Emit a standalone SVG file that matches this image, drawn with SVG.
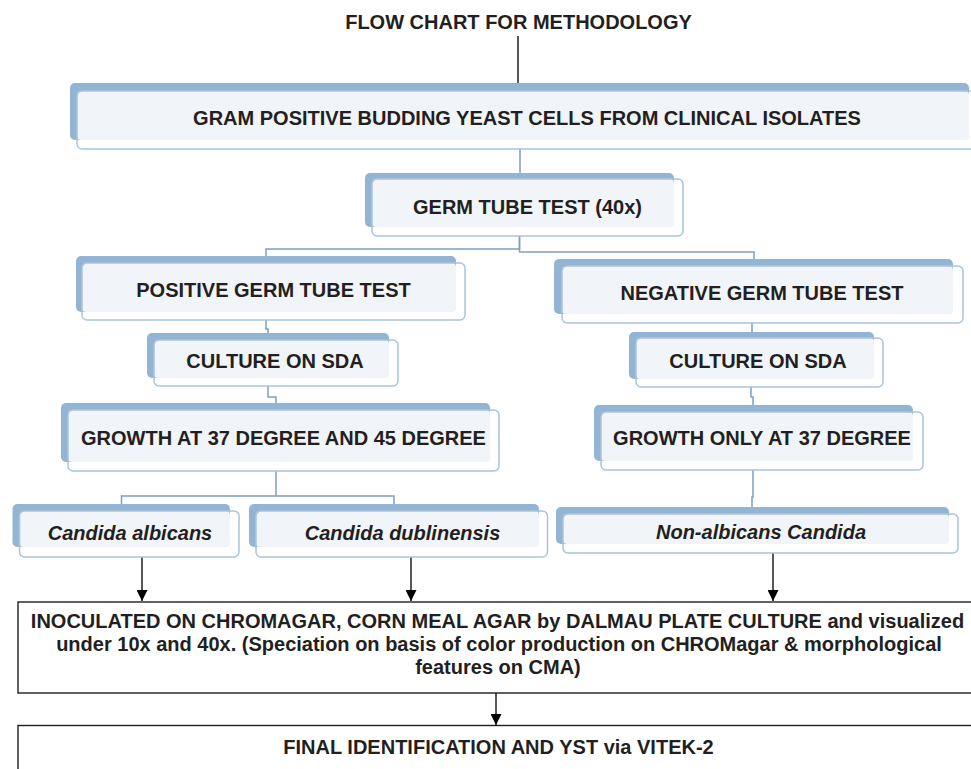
<svg xmlns="http://www.w3.org/2000/svg" width="971" height="769" viewBox="0 0 971 769">
<defs>
<style>
.sh{fill:#93b4d2;}
.fl{fill:#f1f4f8;}
.ol{fill:none;stroke:#a9c4e0;stroke-width:1.5;}
.t{font-family:"Liberation Sans",Arial,sans-serif;font-weight:bold;font-size:20px;fill:#231f20;text-anchor:middle;}
.i{font-style:italic;}
.bl{fill:none;stroke:#7d9fc2;stroke-width:1.5;}
.ar{fill:none;stroke:#231f20;stroke-width:1.5;}
.bx{fill:#ffffff;stroke:#231f20;stroke-width:1.4;}
</style>
<marker id="ah" markerWidth="11" markerHeight="11" refX="11" refY="5.5" orient="auto" markerUnits="userSpaceOnUse">
<path d="M0,0 L11,5.5 L0,11 Z" fill="#000000"/>
</marker>
</defs>
<rect width="971" height="769" fill="#ffffff"/>

<g id="title">
<text class="t" x="518.5" y="29">FLOW CHART FOR METHODOLOGY</text>
</g>

<g id="connectors">
<path class="ar" d="M518,36 V83"/>
<path class="bl" d="M520,149 V173"/>
<path class="bl" d="M519.5,236 V249 H266 V256"/>
<path class="bl" d="M519.5,236 V252 H754 V259"/>
<path class="bl" d="M266,320 V329 H268 V333"/>
<path class="bl" d="M268,386 V397 H276 V403"/>
<path class="bl" d="M276,471 V496 H121.5 V504"/>
<path class="bl" d="M276,496 H394 V504"/>
<path class="bl" d="M752,323 V332"/>
<path class="bl" d="M751,387 V397 H753 V405"/>
<path class="bl" d="M753,470 V497 H752 V507"/>
<path class="ar" d="M142,557 V601" marker-end="url(#ah)"/>
<path class="ar" d="M411,557 V601" marker-end="url(#ah)"/>
<path class="ar" d="M773,553 V601" marker-end="url(#ah)"/>
<path class="ar" d="M496,693 V725" marker-end="url(#ah)"/>
</g>

<g id="n-gram">
<rect class="sh" x="70" y="83" width="899" height="57" rx="5"/>
<rect class="fl" x="77" y="91" width="892" height="49" rx="4"/>
<rect class="ol" x="77" y="91" width="910" height="58" rx="5"/>
<text class="t" x="527" y="125">GRAM POSITIVE BUDDING YEAST CELLS FROM CLINICAL ISOLATES</text>
</g>

<g id="n-germ">
<rect class="sh" x="365" y="173" width="309" height="54" rx="5"/>
<rect class="fl" x="372" y="179" width="302" height="48" rx="4"/>
<rect class="ol" x="372" y="179" width="311" height="57" rx="5"/>
<text class="t" x="527.5" y="214">GERM TUBE TEST (40x)</text>
</g>

<g id="n-pos">
<rect class="sh" x="76" y="256" width="380" height="56" rx="5"/>
<rect class="fl" x="82" y="263" width="374" height="49" rx="4"/>
<rect class="ol" x="82" y="263" width="383" height="57" rx="5"/>
<text class="t" x="273.5" y="297">POSITIVE GERM TUBE TEST</text>
</g>

<g id="n-neg">
<rect class="sh" x="554" y="259" width="399" height="55" rx="5"/>
<rect class="fl" x="562" y="266" width="391" height="48" rx="4"/>
<rect class="ol" x="562" y="266" width="401" height="57" rx="5"/>
<text class="t" x="762" y="300">NEGATIVE GERM TUBE TEST</text>
</g>

<g id="n-sda-l">
<rect class="sh" x="147" y="333" width="242" height="45" rx="5"/>
<rect class="fl" x="154" y="340" width="235" height="38" rx="4"/>
<rect class="ol" x="154" y="340" width="244" height="46" rx="5"/>
<text class="t" x="275" y="368">CULTURE ON SDA</text>
</g>

<g id="n-sda-r">
<rect class="sh" x="629" y="332" width="245" height="47" rx="5"/>
<rect class="fl" x="636" y="338" width="238" height="41" rx="4"/>
<rect class="ol" x="636" y="338" width="247" height="49" rx="5"/>
<text class="t" x="758" y="368">CULTURE ON SDA</text>
</g>

<g id="n-growth-l">
<rect class="sh" x="61" y="403" width="429" height="59" rx="5"/>
<rect class="fl" x="68" y="410" width="422" height="52" rx="4"/>
<rect class="ol" x="68" y="410" width="431" height="61" rx="5"/>
<text class="t" x="283.5" y="445">GROWTH AT 37 DEGREE AND 45 DEGREE</text>
</g>

<g id="n-growth-r">
<rect class="sh" x="594" y="405" width="319" height="56" rx="5"/>
<rect class="fl" x="601" y="412" width="312" height="49" rx="4"/>
<rect class="ol" x="601" y="412" width="322" height="58" rx="5"/>
<text class="t" x="762" y="445">GROWTH ONLY AT 37 DEGREE</text>
</g>

<g id="n-albicans">
<rect class="sh" x="12.5" y="504" width="217.5" height="43" rx="5"/>
<rect class="fl" x="19.5" y="511" width="210.5" height="36" rx="4"/>
<rect class="ol" x="19.5" y="511" width="219.5" height="46" rx="5"/>
<text class="t i" x="130" y="539.5">Candida albicans</text>
</g>

<g id="n-dublinensis">
<rect class="sh" x="249" y="504" width="290" height="43" rx="5"/>
<rect class="fl" x="256" y="511" width="283" height="36" rx="4"/>
<rect class="ol" x="256" y="511" width="291.5" height="46" rx="5"/>
<text class="t i" x="402.5" y="539.5">Candida dublinensis</text>
</g>

<g id="n-nonalbicans">
<rect class="sh" x="556" y="507" width="393" height="37" rx="5"/>
<rect class="fl" x="563" y="514" width="386" height="30" rx="4"/>
<rect class="ol" x="563" y="514" width="395" height="39" rx="5"/>
<text class="t i" x="761" y="539">Non-albicans Candida</text>
</g>

<g id="n-inoculated">
<rect class="bx" x="18" y="602" width="965" height="91"/>
<text class="t" x="497.5" y="628">INOCULATED ON CHROMAGAR, CORN MEAL AGAR by DALMAU PLATE CULTURE and visualized</text>
<text class="t" x="499" y="651">under 10x and 40x. (Speciation on basis of color production on CHROMagar &amp; morphological</text>
<text class="t" x="498" y="674">features on CMA)</text>
</g>

<g id="n-final">
<rect class="bx" x="18" y="725.5" width="965" height="60"/>
<text class="t" x="498.5" y="754">FINAL IDENTIFICATION AND YST via VITEK-2</text>
</g>
</svg>
